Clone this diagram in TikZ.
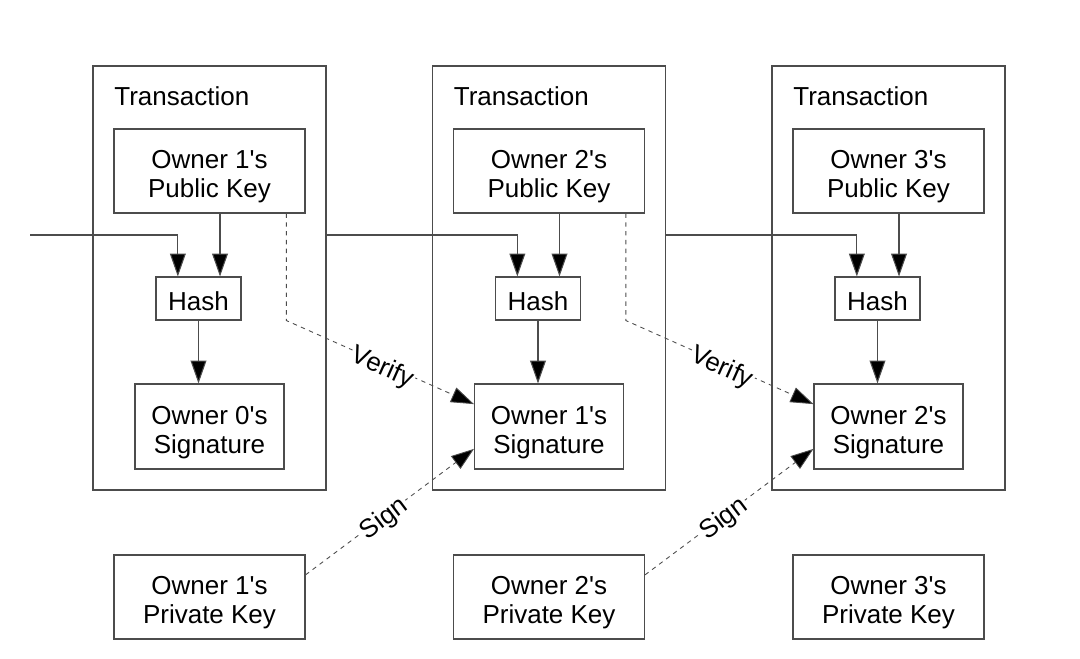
\documentclass[tikz,border=0pt]{standalone}
\usepackage{fontspec}
\setmainfont{Liberation Sans}
\usetikzlibrary{arrows.meta,calc}
\newcommand{\apos}{\textquotesingle}
\begin{document}
\begin{tikzpicture}[x=0.02cm,y=-0.02cm,
 every node/.style={font=\fontsize{14.8}{16.6}\selectfont, align=center},
 box/.style={draw=black!70, line width=0.6pt, inner sep=0pt},
 txbox/.style={box, minimum width=233*0.02cm, minimum height=424*0.02cm},
 keybox/.style={box, minimum width=191*0.02cm, minimum height=84*0.02cm},
 hashbox/.style={box, minimum width=85*0.02cm, minimum height=43*0.02cm},
 sigbox/.style={box, minimum width=149*0.02cm, minimum height=85*0.02cm},
 txt/.style={inner sep=0pt},
 conn/.style={draw=black!70, line width=0.6pt, -{Triangle[length=13pt,width=9pt,fill=black]}},
 dconn/.style={conn, dash pattern=on 2.5pt off 2.5pt, line width=0.5pt},
 lbl/.style={sloped, fill=white, inner sep=1pt}]
\useasboundingbox (0,0) rectangle (1080,659);
\foreach \i/\s/\o in {1/0/0, 2/1/339.5, 3/2/679}{
  \node[txbox] (tx\i) at (209.5+\o,278) {};
  \node[anchor=west, inner sep=0pt] (tl\i) at (114+\o,96) {Transaction};
  \node[keybox] (pub\i) at (209.5+\o,171) {};
  \node[txt] (pubt\i) at (209.5+\o,177) {Owner \i\apos s\\Public Key};
  \node[hashbox] (hash\i) at (198.5+\o,298.5) {};
  \node[txt] (hasht\i) at (198.5+\o,301) {Hash};
  \node[sigbox] (sig\i) at (209.5+\o,426.5) {};
  \node[txt] (sigt\i) at (209.5+\o,432.5) {Owner \s\apos s\\Signature};
  \node[keybox] (priv\i) at (209.5+\o,597) {};
  \node[txt] (privt\i) at (209.5+\o,603) {Owner \i\apos s\\Private Key};
  \coordinate (hl\i) at ($(hash\i.north west)!0.26!(hash\i.north east)$);
  \coordinate (hr\i) at ($(hash\i.north west)!0.75!(hash\i.north east)$);
  \draw[conn] (pub\i.south -| hr\i) -- (hr\i);
  \draw[conn] (hash\i.south) -- (hash\i.south |- sig\i.north);
}
\coordinate (in) at (30,235);
\draw[conn] (in) -| (hl1);
\draw[conn] (tx1.east |- in) -| (hl2);
\draw[conn] (tx2.east |- in) -| (hl3);
\foreach \a/\b in {1/2, 2/3}{
  \coordinate (v\a) at ($(pub\a.south west)!0.9!(pub\a.south east)$);
  \draw[dconn] (v\a) -- (v\a |- hash\a.south) -- node[lbl, pos=0.52, yshift=-2.5pt]{Verify} ($(sig\b.north west)!0.24!(sig\b.south west)$);
  \draw[dconn] ($(priv\a.north east)!0.24!(priv\a.south east)$) -- node[lbl, pos=0.46, yshift=-1.6pt]{Sign} ($(sig\b.north west)!0.76!(sig\b.south west)$);
}
\end{tikzpicture}
\end{document}
